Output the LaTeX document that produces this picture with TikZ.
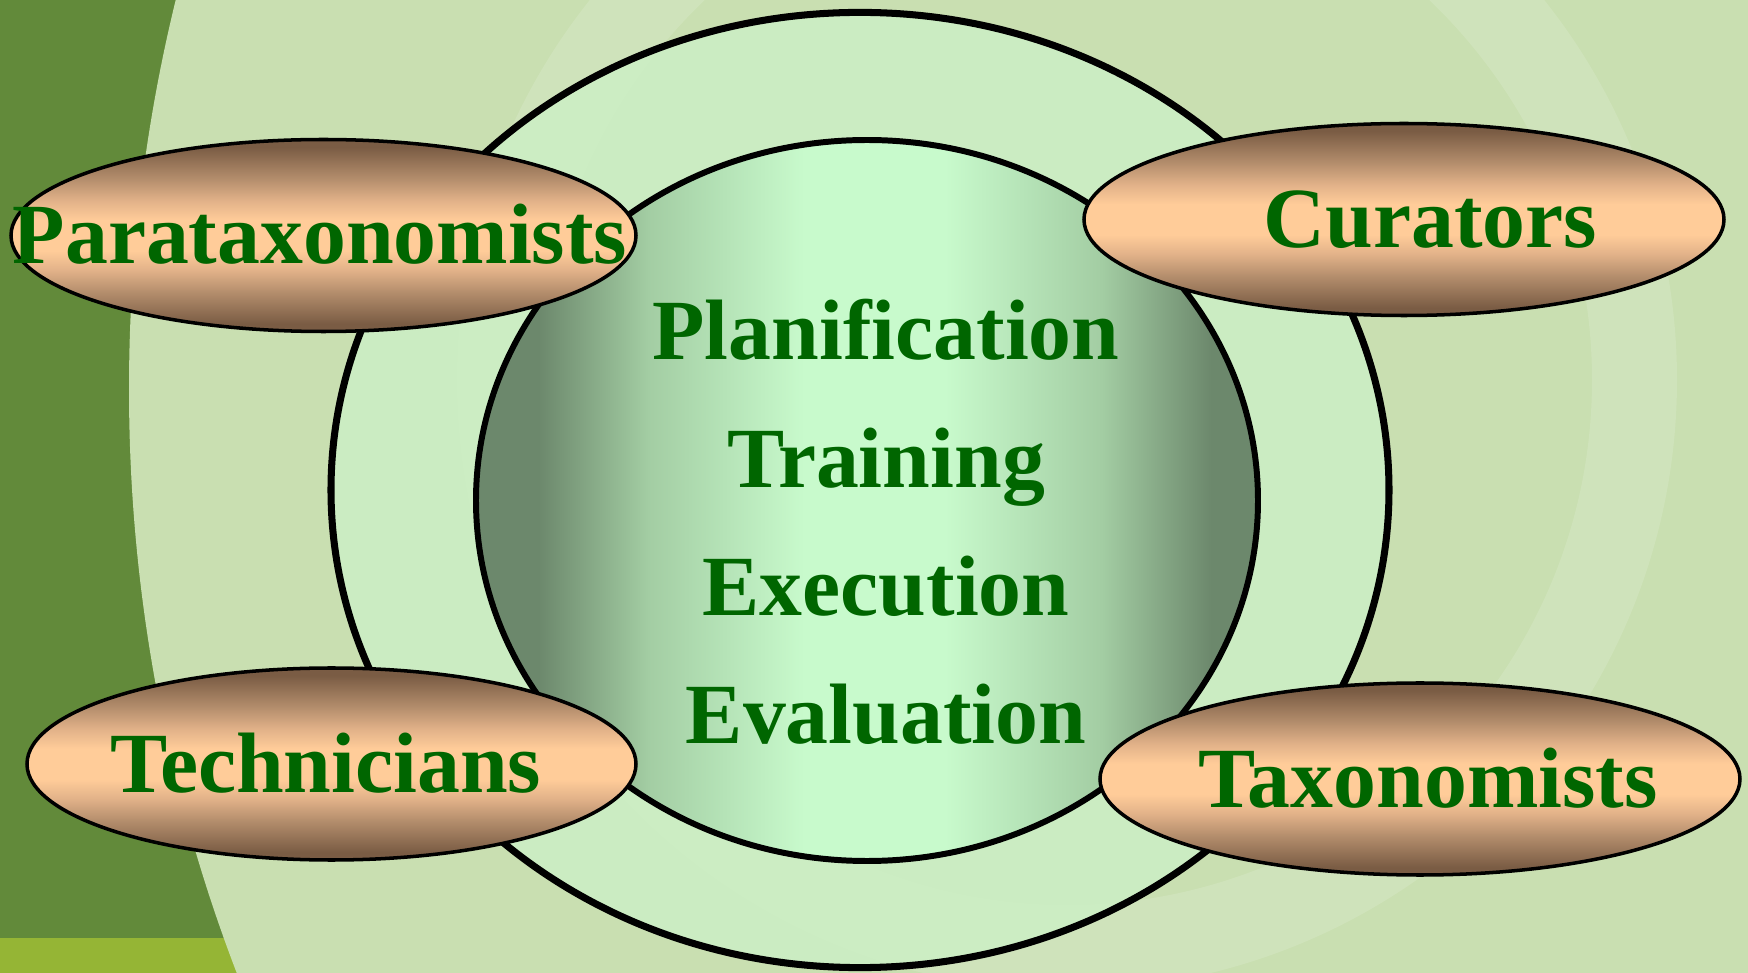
\documentclass[tikz,border=0pt]{standalone}
\usepackage{fontspec}
\setmainfont{Liberation Serif}
\usepackage{tikz}
\usetikzlibrary{shapes.geometric}

\definecolor{leafdark}{HTML}{628A3A}
\definecolor{leafstrip}{HTML}{95B535}
\definecolor{paper}{HTML}{C9DFB1}
\definecolor{mint}{HTML}{CCEEC4}
\definecolor{coreedge}{HTML}{6C886C}
\definecolor{coremid}{HTML}{A3CDA3}
\definecolor{corelight}{HTML}{C8FACC}
\definecolor{bark}{HTML}{7A5C44}
\definecolor{barkmid}{HTML}{B28C6B}
\definecolor{barklight}{HTML}{E2B289}
\definecolor{peach}{HTML}{FFCC99}
\definecolor{leaftext}{HTML}{006600}

% dark rim, light middle for the core
\pgfdeclarehorizontalshading{coreglow}{100bp}{color(0bp)=(coreedge); color(25bp)=(coreedge);
  color(29bp)=(coreedge); color(36bp)=(coremid); color(46bp)=(corelight); color(55bp)=(corelight);
  color(65bp)=(coremid); color(72bp)=(coreedge); color(75bp)=(coreedge); color(100bp)=(coreedge)}
% brown top and bottom, peach band across the middle
\pgfdeclareverticalshading{bulb}{100bp}{color(0bp)=(bark); color(25bp)=(bark); color(27bp)=(bark);
  color(35bp)=(barkmid); color(41bp)=(barklight); color(46bp)=(peach); color(54bp)=(peach);
  color(59bp)=(barklight); color(65bp)=(barkmid); color(73bp)=(bark); color(75bp)=(bark); color(100bp)=(bark)}

\tikzset{
    stage/.style={text=leaftext, font=\fontsize{24.4}{29}\selectfont\bfseries, inner sep=0pt},
    role/.style={ellipse, draw=black, line width=1pt, shade, shading=bulb,
        minimum height=1.92cm, inner sep=0pt},
    rolename/.style={stage, text height=0.57cm, text depth=0pt},
}

\begin{document}
\begin{tikzpicture}
\useasboundingbox (0,0) rectangle (17.48,-9.73);

% backdrop
\begin{scope}
\clip (0,0) rectangle (17.48,-9.73);
\fill[leafdark] (0,0) rectangle (17.48,-9.73);
\fill[leafstrip] (0,-9.38) rectangle (17.48,-9.73);
\fill[paper] (17.59,-3.89) circle (16.30);
\draw[white, opacity=0.13, line width=0.85cm] (10.67,-3.80) circle (5.675);
\end{scope}

% rings
\draw[line width=2pt, fill=mint, fill opacity=0.92] (8.60,-4.90) ellipse [x radius=5.29, y radius=4.776];
\draw[line width=1.7pt, shading=coreglow] (8.67,-5.005) ellipse [x radius=3.91, y radius=3.605];

\foreach \word [count=\i from 0] in {Planification, Training, Execution, Evaluation}
    \node[stage, anchor=base] (stage\i) at (8.86,-3.60-1.277*\i) {\word};

% the four groups
\node[role, minimum width=6.25cm] (para) at (3.235,-2.355) {};
\node[role, minimum width=6.40cm] (cur) at (14.04,-2.195) {};
\node[role, minimum width=6.09cm] (tech) at (3.315,-7.64) {};
\node[role, minimum width=6.40cm] (tax) at (14.20,-7.79) {};

\node[rolename] (paraname) at ([xshift=-0.035cm]para.center) {Parataxonomists};
\node[rolename] (curname) at ([xshift=0.265cm]cur.center) {Curators};
\node[rolename] (techname) at ([xshift=-0.055cm]tech.center) {Technicians};
\node[rolename] (taxname) at ([xshift=0.08cm]tax.center) {Taxonomists};
\end{tikzpicture}
\end{document}
